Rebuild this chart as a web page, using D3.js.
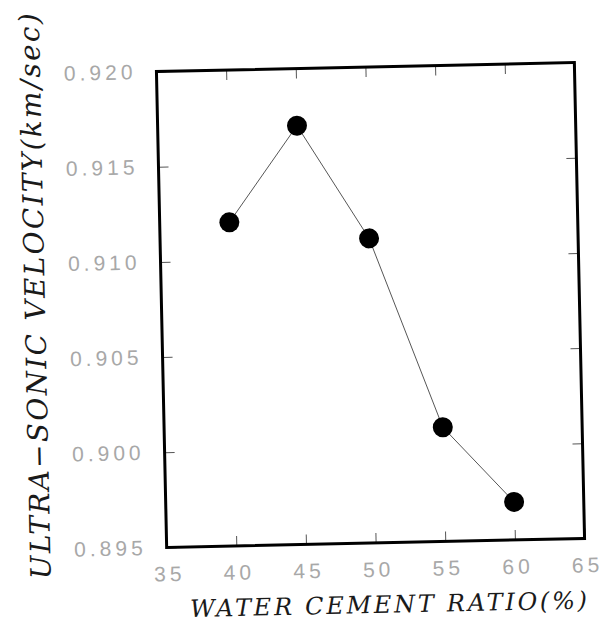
<!DOCTYPE html>
<html>
<head>
<meta charset="utf-8">
<script src="https://cdn.jsdelivr.net/npm/d3@7"></script>
<style>
body { margin: 0; background: #fff; }
</style>
</head>
<body>
<svg id="chart" width="616" height="623"></svg>
<script>
// water cement ratio (%) vs ultra-sonic velocity (km/sec)
var ratio = [40, 45, 50, 55, 60];
var velocity = [0.9120, 0.9170, 0.9110, 0.9010, 0.8970];

var xTicks = [35, 40, 45, 50, 55, 60, 65];
var yTicks = [0.895, 0.900, 0.905, 0.910, 0.915, 0.920];

var xTitle = "WATER CEMENT RATIO(%)";
var yTitle = "ULTRA\u2212SONIC VELOCITY(km/sec)";

var serif = "'DejaVu Serif', serif";
var sans = "'Liberation Sans', Arial, sans-serif";

var svg = d3.select("#chart");

// the scan is tilted a little, so the whole plot is too
var frame = {left: 161.5, right: 579.5, top: 67, bottom: 543};
var tilt = -1.23;

var g = svg.append("g")
	.attr("transform", "rotate(" + tilt + ",370.5,305)");

var x = d3.scaleLinear().domain([35, 65]).range([frame.left, frame.right]);
var y = d3.scaleLinear().domain([0.895, 0.920]).range([frame.bottom, frame.top]);

function style_axis(sel, labels)
{
	sel.select(".domain").remove();
	sel.attr("font-family", sans).attr("font-size", 21);
	sel.selectAll(".tick line")
		.attr("stroke", "#555")
		.attr("stroke-width", 1);
	if (labels) {
		sel.selectAll(".tick text")
			.attr("fill", "#a8a8a8")
			.style("letter-spacing", "4px");
	} else {
		sel.selectAll(".tick text").remove();
	}
}

g.append("g")
	.attr("transform", "translate(" + frame.left + ",0)")
	.call(d3.axisLeft(y).tickValues(yTicks).tickSize(-10).tickPadding(20).tickFormat(d3.format(".3f")))
	.call(style_axis, true);

g.append("g")
	.attr("transform", "translate(" + frame.right + ",0)")
	.call(d3.axisRight(y).tickValues(yTicks).tickSize(-10))
	.call(style_axis, false);

g.append("g")
	.attr("transform", "translate(0," + frame.bottom + ")")
	.call(d3.axisBottom(x).tickValues(xTicks).tickSize(-10).tickPadding(19).tickFormat(d3.format("d")))
	.call(style_axis, true)
	.selectAll(".tick text").attr("dx", 2);

g.append("g")
	.attr("transform", "translate(0," + frame.top + ")")
	.call(d3.axisTop(x).tickValues(xTicks).tickSize(-10))
	.call(style_axis, false);

// frame
g.append("rect")
	.attr("x", frame.left)
	.attr("y", frame.top)
	.attr("width", frame.right - frame.left)
	.attr("height", frame.bottom - frame.top)
	.attr("fill", "none")
	.attr("stroke", "#000")
	.attr("stroke-width", 3);

var pts = ratio.map((r, i) => [r, velocity[i]]);

g.append("path")
	.datum(pts)
	.attr("fill", "none")
	.attr("stroke", "#444")
	.attr("stroke-width", 0.9)
	.attr("d", d3.line().x(d => x(d[0])).y(d => y(d[1])));

g.selectAll("circle.pt")
	.data(pts)
	.enter()
	.append("circle")
		.attr("class", "pt")
		.attr("r", 10)
		.attr("cx", d => x(d[0]))
		.attr("cy", d => y(d[1]))
		.attr("fill", "#000");

g.append("text")
	.attr("x", 382)
	.attr("y", 613)
	.attr("text-anchor", "middle")
	.attr("font-family", serif)
	.attr("font-style", "italic")
	.attr("font-size", 24)
	.attr("fill", "#1a1a1a")
	.attr("textLength", 397)
	.attr("lengthAdjust", "spacing")
	.text(xTitle);

g.append("text")
	.attr("transform", "translate(45,289) rotate(-90)")
	.attr("text-anchor", "middle")
	.attr("font-family", serif)
	.attr("font-style", "italic")
	.attr("font-size", 28)
	.attr("fill", "#1a1a1a")
	.attr("textLength", 566)
	.attr("lengthAdjust", "spacing")
	.text(yTitle);
</script>
</body>
</html>
